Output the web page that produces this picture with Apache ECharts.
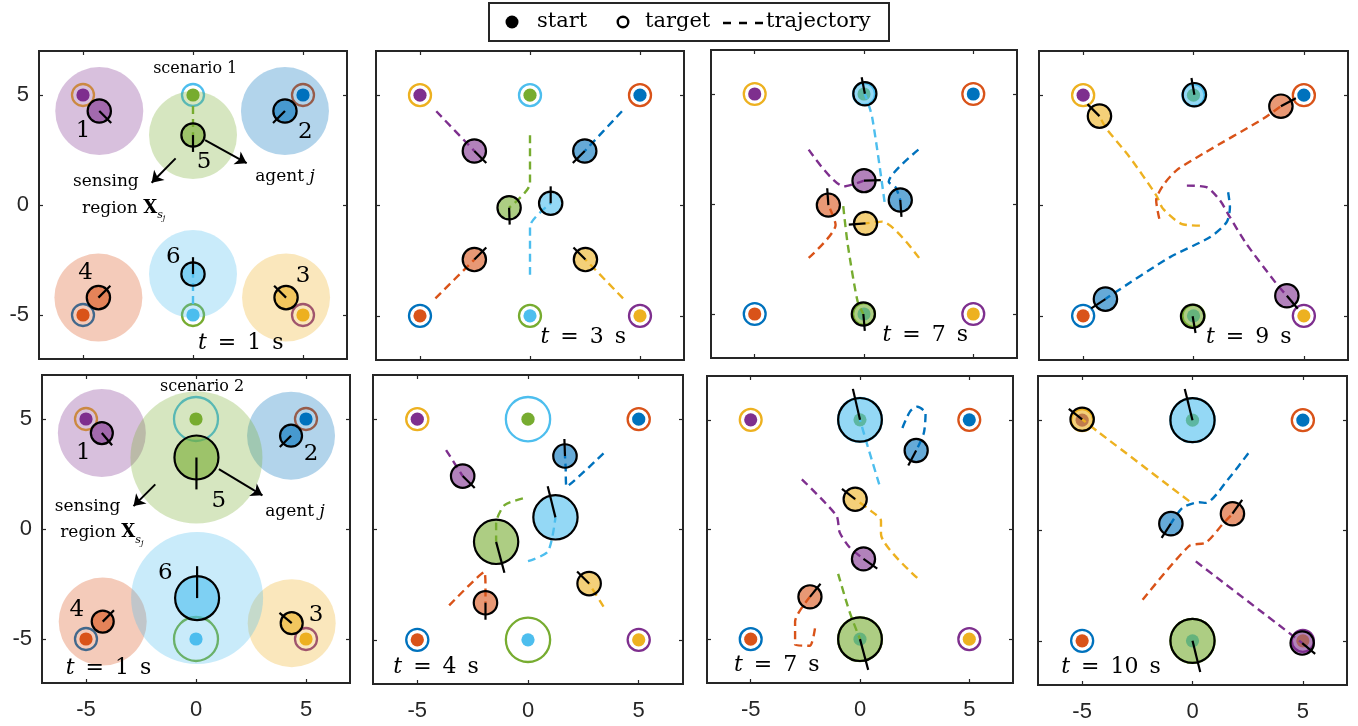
<!DOCTYPE html>
<html>
<head>
<meta charset="utf-8">
<script src="https://cdn.jsdelivr.net/npm/echarts@6.0.0/dist/echarts.min.js"></script>
<style>
  html, body { margin: 0; padding: 0; background: #fff; }
  #main { width: 1358px; height: 726px; }
</style>
</head>
<body>
<div id="main"></div>
<script>
// ---- agent set-up -------------------------------------------------------
const agentColors = ['#7E2F8E', '#0072BD', '#EDB120', '#D95319', '#77AC30', '#4DBEEE'];
const startPoints = [[-5, 5], [5, 5], [5, -5], [-5, -5], [0, 5], [0, -5]];
const targetPoints = [[5, -5], [-5, -5], [-5, 5], [5, 5], [0, -5], [0, 5]];
const startDotRadius = 0.3;
const targetRadiusS1 = [0.5, 0.5, 0.5, 0.5, 0.5, 0.5];
const targetRadiusS2 = [0.5, 0.5, 0.5, 0.5, 1.0, 1.0];
const sensingRadiusS1 = [2, 2, 2, 2, 2, 2];
const sensingRadiusS2 = [2, 2, 2, 2, 3, 3];
const tickValues = [-5, 0, 5];

// agent states per snapshot: [x, y, body radius, heading (deg)], agents 1..6
const agentsP1 = [[-4.26, 4.27, 0.53, -45], [4.18, 4.27, 0.53, -135], [4.23, -4.21, 0.53, 135],
                  [-4.3, -4.21, 0.53, 45], [0, 3.18, 0.53, -90], [0, -3.14, 0.53, 90]];
const agentsP2 = [[-2.53, 2.47, 0.53, -45], [2.49, 2.47, 0.53, -135], [2.52, -2.45, 0.53, 135],
                  [-2.53, -2.45, 0.53, 45], [-0.95, -0.1, 0.53, -88], [0.94, 0.1, 0.53, 90]];
const agentsP3 = [[0, 1.06, 0.53, 2], [1.66, 0.18, 0.53, -86], [0.07, -0.88, 0.53, 184],
                  [-1.63, -0.05, 0.53, 94], [-0.03, -5.0, 0.53, -85], [0.04, 5.01, 0.53, 101]];
const agentsP4 = [[4.23, -4.09, 0.53, -50], [-3.99, -4.24, 0.53, -147], [-4.26, 4.05, 0.53, 135],
                  [3.96, 4.5, 0.53, 28], [-0.04, -5.02, 0.53, -80], [0.04, 5.02, 0.53, 100]];
const agentsP5 = [[-4.28, 4.36, 0.5, -50], [4.32, 4.24, 0.5, -135], [4.35, -4.28, 0.5, 140],
                  [-4.24, -4.21, 0.5, 45], [0.02, 3.25, 1.0, -90], [0.05, -3.14, 1.0, 90]];
const agentsP6 = [[-2.95, 2.42, 0.53, -45], [1.67, 3.33, 0.53, 92], [2.76, -2.45, 0.53, 135],
                  [-1.92, -3.32, 0.53, -90], [-1.44, -0.56, 1.0, -75], [1.24, 0.55, 1.0, 104]];
const agentsP7 = [[0.16, -1.34, 0.53, -35], [2.57, 3.6, 0.53, -118], [-0.22, 1.38, 0.53, 142],
                  [-2.29, -3.07, 0.53, 51], [0, -5.0, 1.0, -75], [0, 5.0, 1.0, 103]];
const agentsP8 = [[4.97, -5.1, 0.53, -40], [-0.98, 0.31, 0.53, -123], [-5.0, 5.04, 0.53, 142],
                  [1.81, 0.76, 0.53, 55], [0, -5.0, 1.0, -76], [0, 5.0, 1.0, 104]];

// recent trajectories per snapshot, one polyline per agent
const pathsP1 = [[], [], [], [], [[0, 4.5], [0, 3.18]], [[0, -4.5], [0, -3.14]]];
const pathsP2 = [
  [[-4.26, 4.27], [-2.53, 2.47]],
  [[4.18, 4.27], [2.49, 2.47]],
  [[4.23, -4.21], [2.52, -2.45]],
  [[-4.3, -4.21], [-2.53, -2.45]],
  [[0, 3.18], [0, 1.0], [-0.95, -0.1]],
  [[0, -3.14], [0, -0.95], [0.94, 0.1]]
];
const pathsP3 = [
  [[-2.53, 2.47], [-0.92, 0.8], [0, 1.06]],
  [[2.49, 2.47], [1.13, 1.01], [1.45, 0.75], [1.66, 0.18]],
  [[2.52, -2.45], [0.83, -0.8], [0.07, -0.88]],
  [[-2.53, -2.45], [-1.3, -0.95], [-1.63, -0.05]],
  [[-0.95, -0.1], [-0.75, -1.8], [-0.3, -4.4], [-0.03, -5.0]],
  [[0.94, 0.1], [0.37, 3.96], [0.04, 5.01]]
];
const pathsP4 = [
  [[-0.3, 0.9], [0.59, 0.83], [1.2, 0.23], [1.65, -0.53], [2.4, -1.74], [3.77, -3.56], [4.23, -4.09]],
  [[1.57, 0.6], [1.65, -0.08], [1.5, -0.76], [0.74, -1.44], [-1.08, -2.35], [-3.66, -4.01], [-3.99, -4.24]],
  [[0.29, -0.91], [-0.55, -0.83], [-1.38, -0.15], [-1.68, 0.45], [-2.9, 2.2], [-3.95, 3.49], [-4.26, 4.05]],
  [[-1.55, -0.6], [-1.69, 0.23], [-1.38, 0.91], [-0.77, 1.59], [0.44, 2.35], [3.17, 3.94], [3.96, 4.5]],
  [], []
];
const pathsP5 = [[], [], [], [], [], []];
const pathsP6 = [
  [[-3.7, 3.6], [-2.95, 2.42]],
  [[3.41, 3.45], [1.74, 1.94], [1.7, 2.8], [1.67, 3.33]],
  [[3.41, -3.49], [2.76, -2.45]],
  [[-3.56, -3.44], [-1.97, -1.93], [-1.92, -2.7], [-1.92, -3.32]],
  [[-0.23, 1.41], [-1.06, 1.1], [-1.44, 0.27], [-1.44, -0.56]],
  [[0, -1.43], [0.9, -1.0], [1.24, 0.55]]
];
const pathsP7 = [
  [[-2.66, 2.29], [-1.08, 0.63], [-0.93, -0.13], [-0.48, -0.81], [0.16, -1.34]],
  [[1.94, 4.63], [2.3, 5.4], [2.62, 5.6], [3.0, 5.3], [2.92, 4.4], [2.57, 3.6]],
  [[2.62, -2.21], [0.96, -0.2], [0.96, 0.4], [0.5, 0.85], [-0.22, 1.38]],
  [[-2.06, -4.51], [-2.3, -5.3], [-2.97, -5.26], [-2.97, -4.2], [-2.29, -3.07]],
  [[-1.0, -2.02], [-0.48, -3.75], [0, -5.0]],
  [[0.88, 2.06], [0.35, 3.8], [0, 5.0]]
];
const pathsP8 = [
  [[0.15, -1.4], [4.52, -4.75], [4.97, -5.1]],
  [[2.53, 3.5], [1.66, 2.38], [0.6, 1.25], [0.3, 1.28], [-0.45, 1.03], [-0.98, 0.31]],
  [[-0.15, 1.33], [-4.29, 4.48], [-5.0, 5.04]],
  [[-2.26, -3.14], [-0.15, -0.7], [0.6, -0.55], [1.36, 0.28], [1.81, 0.76]],
  [], []
];

// annotations: [x, y, text, kind]
const notesP1 = [
  [0.1, 6.2, 'scenario 1', 'title'],
  [-5.0, 3.38, '1', 'id'], [5.1, 3.3, '2', 'id'], [0.5, 1.95, '5', 'id'],
  [-0.9, -2.36, '6', 'id'], [-4.88, -3.11, '4', 'id'], [5.0, -3.24, '3', 'id'],
  [-3.96, 1.06, 'sensing', 'note'],
  [-3.15, -0.15, 'region {b|X}{sub|s}{subj|j}', 'note'],
  [4.18, 1.29, 'agent {i|j}', 'note'],
  [2.17, -6.29, '{i|t}\u2002=\u20021\u2002s', 'time']
];
const notesP2 = [[2.42, -5.95, '{i|t}\u2002=\u20023\u2002s', 'time']];
const notesP3 = [[2.8, -5.98, '{i|t}\u2002=\u20027\u2002s', 'time']];
const notesP4 = [[2.5, -5.95, '{i|t}\u2002=\u20029\u2002s', 'time']];
const notesP5 = [
  [0.28, 6.44, 'scenario 2', 'title'],
  [-5.12, 3.47, '1', 'id'], [5.23, 3.4, '2', 'id'], [1.04, 1.27, '5', 'id'],
  [-1.39, -2.0, '6', 'id'], [-5.42, -3.67, '4', 'id'], [5.46, -3.9, '3', 'id'],
  [-4.93, 1.04, 'sensing', 'note'],
  [-4.28, -0.17, 'region {b|X}{sub|s}{subj|j}', 'note'],
  [4.5, 0.77, 'agent {i|j}', 'note'],
  [-3.98, -6.33, '{i|t}\u2002=\u20021\u2002s', 'time']
];
const notesP6 = [[-4.15, -6.25, '{i|t}\u2002=\u20024\u2002s', 'time']];
const notesP7 = [[-3.81, -6.19, '{i|t}\u2002=\u20027\u2002s', 'time']];
const notesP8 = [[-3.69, -6.18, '{i|t}\u2002=\u200210\u2002s', 'time']];

// pointer arrows: [from, to]
const arrowsP1 = [[[-0.79, 2.12], [-1.88, 1.01]], [[0.55, 2.95], [2.44, 1.9]]];
const arrowsP5 = [[[-1.85, 2.03], [-2.84, 1.04]], [[1.04, 2.72], [3.02, 1.53]]];

// ---- panel assembly -----------------------------------------------------
const panels = [
  { box: [39, 51, 308, 308], agents: agentsP1, paths: pathsP1, notes: notesP1, arrows: arrowsP1, sensing: sensingRadiusS1, targetR: targetRadiusS1, xLabels: false, yLabels: true },
  { box: [376, 51, 308, 309], agents: agentsP2, paths: pathsP2, notes: notesP2, arrows: [], sensing: null, targetR: targetRadiusS1, xLabels: false, yLabels: false },
  { box: [711, 50, 306, 308], agents: agentsP3, paths: pathsP3, notes: notesP3, arrows: [], sensing: null, targetR: targetRadiusS1, xLabels: false, yLabels: false },
  { box: [1039, 51, 309, 309], agents: agentsP4, paths: pathsP4, notes: notesP4, arrows: [], sensing: null, targetR: targetRadiusS1, xLabels: false, yLabels: false },
  { box: [42, 375, 308, 308], agents: agentsP5, paths: pathsP5, notes: notesP5, arrows: arrowsP5, sensing: sensingRadiusS2, targetR: targetRadiusS2, xLabels: true, yLabels: true },
  { box: [373, 375, 310, 309], agents: agentsP6, paths: pathsP6, notes: notesP6, arrows: [], sensing: null, targetR: targetRadiusS2, xLabels: true, yLabels: false },
  { box: [707, 376, 306, 307], agents: agentsP7, paths: pathsP7, notes: notesP7, arrows: [], sensing: null, targetR: targetRadiusS2, xLabels: true, yLabels: false },
  { box: [1038, 376, 309, 309], agents: agentsP8, paths: pathsP8, notes: notesP8, arrows: [], sensing: null, targetR: targetRadiusS2, xLabels: true, yLabels: false }
];

const frameColor = '#262626';
const serif = 'DejaVu Serif';
const sans = 'Liberation Sans';
const noteSizes = { title: 16, id: 23, note: 17, time: 22 };

// rich-text styles for one annotation size
function noteRich(size) {
  return {
    i: { fontStyle: 'italic', fontFamily: serif, fontSize: size, fill: '#000' },
    b: { fontWeight: 'bold', fontFamily: serif, fontSize: size + 1, fill: '#000' },
    sub: { fontStyle: 'italic', fontFamily: serif, fontSize: 11, padding: [14, 0, 0, 0], fill: '#000' },
    subj: { fontStyle: 'italic', fontFamily: serif, fontSize: 8, padding: [20, 0, 0, 0], fill: '#000' }
  };
}

function rgba(hex, a) {
  const n = parseInt(hex.slice(1), 16);
  return 'rgba(' + ((n >> 16) & 255) + ',' + ((n >> 8) & 255) + ',' + (n & 255) + ',' + a + ')';
}

function circleSeries(i, data, styleOf, z) {
  return {
    type: 'custom', xAxisIndex: i, yAxisIndex: i, z: z, silent: true,
    encode: { x: 0, y: 1 }, data: data,
    renderItem: function (params, api) {
      const c = api.coord([api.value(0), api.value(1)]);
      const r = api.size([api.value(2), 0])[0];
      return { type: 'circle', shape: { cx: c[0], cy: c[1], r: r }, style: styleOf(api.value(3)) };
    }
  };
}

const grid = [], xAxis = [], yAxis = [], series = [];
const n = panels.length;

panels.forEach(function (p, i) {
  grid.push({ left: p.box[0], top: p.box[1], width: p.box[2], height: p.box[3],
              show: true, borderColor: frameColor, borderWidth: 2, backgroundColor: '#fff' });
  const tick = { show: true, inside: true, length: 4, customValues: tickValues,
                 lineStyle: { color: frameColor, width: 1.2 } };
  const label = { customValues: tickValues, fontFamily: sans, fontSize: 22, color: '#262626' };
  const line = { show: false, onZero: false };
  xAxis[i] = { gridIndex: i, type: 'value', min: -7, max: 7, position: 'bottom',
               axisLine: line, splitLine: { show: false }, axisTick: tick,
               axisLabel: Object.assign({ show: p.xLabels, margin: 16 }, label) };
  yAxis[i] = { gridIndex: i, type: 'value', min: -7, max: 7, position: 'left',
               axisLine: line, splitLine: { show: false }, axisTick: tick,
               axisLabel: Object.assign({ show: p.yLabels, margin: 10 }, label) };
  xAxis[n + i] = { gridIndex: i, type: 'value', min: -7, max: 7, position: 'top',
                   axisLine: line, splitLine: { show: false }, axisTick: tick,
                   axisLabel: { show: false } };
  yAxis[n + i] = { gridIndex: i, type: 'value', min: -7, max: 7, position: 'right',
                   axisLine: line, splitLine: { show: false }, axisTick: tick,
                   axisLabel: { show: false } };

  // start positions (filled dots)
  series.push(circleSeries(i, startPoints.map(function (s, k) { return [s[0], s[1], startDotRadius, k]; }),
    function (k) { return { fill: agentColors[k] }; }, 2));
  // targets (rings)
  series.push(circleSeries(i, targetPoints.map(function (t, k) { return [t[0], t[1], p.targetR[k], k]; }),
    function (k) { return { fill: 'none', stroke: agentColors[k], lineWidth: 2.3 }; }, 2));

  // trajectories
  p.paths.forEach(function (path, k) {
    if (path.length < 2) return;
    series.push({
      type: 'line', xAxisIndex: i, yAxisIndex: i, z: 3, silent: true,
      data: path, showSymbol: false, symbol: 'none', smooth: 0.25,
      lineStyle: { color: agentColors[k], width: 2.4, type: [8, 5] }
    });
  });

  // sensing regions
  if (p.sensing) {
    series.push(circleSeries(i, p.agents.map(function (a, k) { return [a[0], a[1], p.sensing[k], k]; }),
      function (k) { return { fill: rgba(agentColors[k], 0.3) }; }, 4));
  }

  // agent bodies with heading lines
  series.push({
    type: 'custom', xAxisIndex: i, yAxisIndex: i, z: 5, silent: true,
    encode: { x: 0, y: 1 },
    data: p.agents.map(function (a, k) { return [a[0], a[1], a[2], a[3], k]; }),
    renderItem: function (params, api) {
      const x = api.value(0), y = api.value(1), r = api.value(2);
      const h = api.value(3) * Math.PI / 180, k = api.value(4);
      const c = api.coord([x, y]);
      const e = api.coord([x + 1.45 * r * Math.cos(h), y + 1.45 * r * Math.sin(h)]);
      const rp = api.size([r, 0])[0];
      return { type: 'group', children: [
        { type: 'circle', shape: { cx: c[0], cy: c[1], r: rp },
          style: { fill: rgba(agentColors[k], 0.6), stroke: '#000', lineWidth: 2.2 } },
        { type: 'line', shape: { x1: c[0], y1: c[1], x2: e[0], y2: e[1] },
          style: { stroke: '#000', lineWidth: 2.2 } }
      ] };
    }
  });

  // annotations
  series.push({
    type: 'custom', xAxisIndex: i, yAxisIndex: i, z: 7, silent: true,
    encode: { x: 0, y: 1 },
    data: p.notes.map(function (t, j) { return [t[0], t[1], j]; }),
    renderItem: function (params, api) {
      const note = p.notes[api.value(2)];
      const size = noteSizes[note[3]];
      const c = api.coord([api.value(0), api.value(1)]);
      return {
        type: 'text', x: c[0], y: c[1],
        style: {
          text: note[2], fill: '#000', fontFamily: serif, fontSize: size,
          align: 'center', verticalAlign: 'middle', rich: noteRich(size)
        }
      };
    }
  });

  // pointer arrows
  if (p.arrows.length) {
    series.push({
      type: 'lines', coordinateSystem: 'cartesian2d', xAxisIndex: i, yAxisIndex: i, z: 7, silent: true,
      data: p.arrows.map(function (a) { return { coords: a }; }),
      symbol: ['none', 'arrow'], symbolSize: 11,
      lineStyle: { color: '#000', width: 2, opacity: 1 }
    });
  }
});

// legend box at the top
const legendY = 22;
const legendFont = '21px "DejaVu Serif"';
const graphic = [
  { type: 'rect', shape: { x: 489, y: 3, width: 400, height: 38 }, style: { fill: '#fff', stroke: frameColor, lineWidth: 2 }, z: 10 },
  { type: 'circle', shape: { cx: 512, cy: legendY, r: 6.5 }, style: { fill: '#000' }, z: 11 },
  { type: 'text', x: 537, y: legendY, style: { text: 'start', font: legendFont, fill: '#000', verticalAlign: 'middle' }, z: 11 },
  { type: 'circle', shape: { cx: 623, cy: legendY, r: 5.3 }, style: { fill: 'none', stroke: '#000', lineWidth: 2.4 }, z: 11 },
  { type: 'text', x: 645, y: legendY, style: { text: 'target', font: legendFont, fill: '#000', verticalAlign: 'middle' }, z: 11 },
  { type: 'line', shape: { x1: 723, y1: legendY + 1, x2: 763, y2: legendY + 1 }, style: { stroke: '#000', lineWidth: 2.4, lineDash: [8, 8] }, z: 11 },
  { type: 'text', x: 766, y: legendY, style: { text: 'trajectory', font: legendFont, fill: '#000', verticalAlign: 'middle' }, z: 11 }
];

const chart = echarts.init(document.getElementById('main'), null, { renderer: 'canvas' });
chart.setOption({
  animation: false,
  backgroundColor: '#fff',
  grid: grid, xAxis: xAxis, yAxis: yAxis, series: series, graphic: graphic
});
</script>
</body>
</html>
